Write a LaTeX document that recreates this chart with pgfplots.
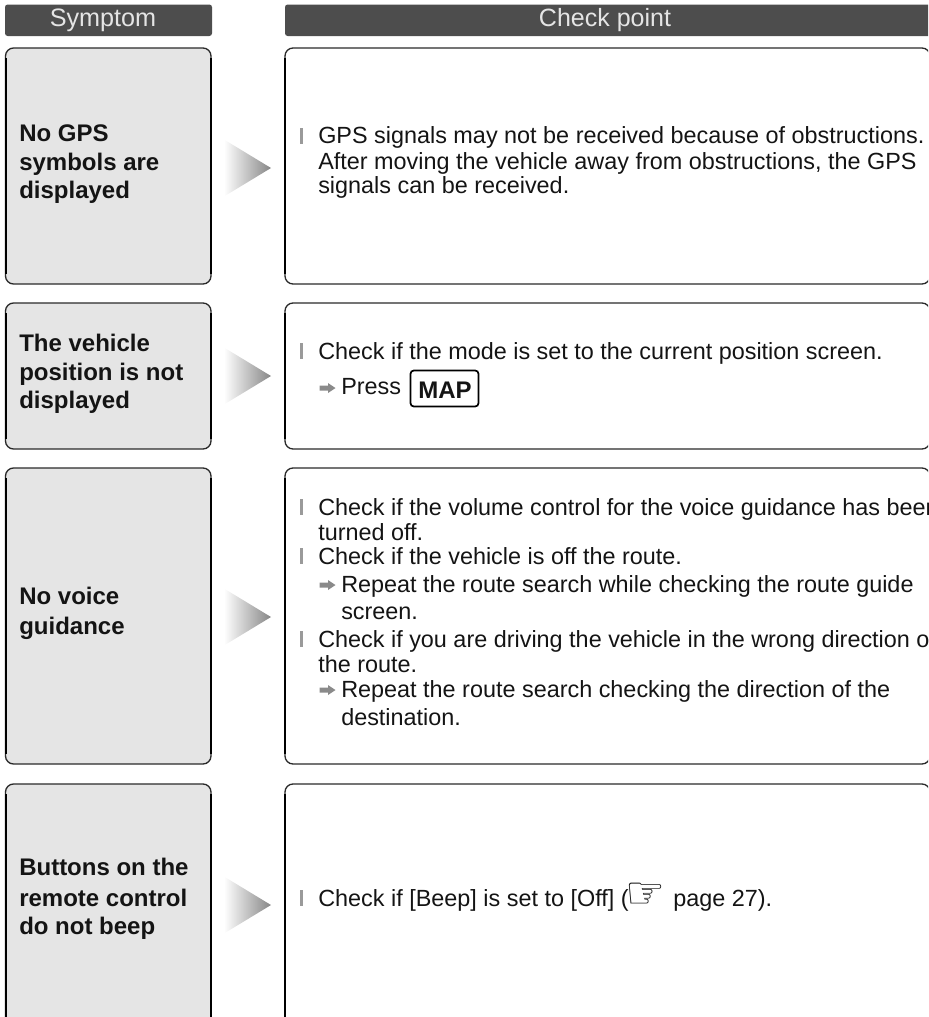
\documentclass[border=0pt]{standalone}
\usepackage{pgfplots}
\pgfplotsset{compat=1.18}
\usepackage{fontspec}
\setmainfont{Liberation Sans}
\newfontfamily\dejavu{DejaVu Sans}
\definecolor{hdr}{HTML}{4D4D4D}
\definecolor{pale}{HTML}{E5E5E5}
\definecolor{edge}{HTML}{2A2A2A}
\definecolor{txt}{HTML}{141414}
\definecolor{bull}{HTML}{9A9A9A}
\definecolor{arr}{HTML}{8A8A8A}
\newcommand{\T}[3]{\node[anchor=base west,inner sep=0pt,text=txt,font=\fontsize{17.55pt}{22pt}\selectfont] at (#1,#2) {#3};}
\newcommand{\B}[3]{\node[anchor=base west,inner sep=0pt,text=txt,font=\fontsize{18pt}{22pt}\selectfont\bfseries] at (#1,#2) {#3};}
\newcommand{\Bul}[1]{\fill[bull] (300,#1-16) rectangle (302.6,#1);}
\newcommand{\Arr}[1]{\fill[arr] (319.5,#1-2.5) -- (328,#1-2.5) -- (328,#1-5) -- (335.5,#1) -- (328,#1+5) -- (328,#1+2.5) -- (319.5,#1+2.5) -- cycle;}
\newcommand{\Row}[3]{%
  \path[fill=pale,rounded corners=6pt] (5.5,#1) rectangle (211,#2);
  \draw[edge,line width=1pt,rounded corners=6pt] (5.5,#1) rectangle (211,#2);
  \draw[black,line width=1.5pt] (5.5,#1+10) -- (5.5,#2-10);
  \draw[black,line width=1.5pt] (211,#1+10) -- (211,#2-10);
  \draw[edge,line width=1pt,rounded corners=6pt] (285,#1) rectangle (930,#2);
  \draw[black,line width=1.5pt] (285,#1+10) -- (285,#2-10);
  \shade[left color=white,right color=gray!95] (224,#3-28.5) -- (271,#3) -- (224,#3+28.5) -- cycle;
}
\begin{document}
\begin{tikzpicture}
\begin{axis}[
  scale only axis,width=696pt,height=762.75pt,
  xmin=0,xmax=928,ymin=0,ymax=1017,y dir=reverse,
  hide axis,clip=true]
\addplot[draw=none] coordinates {(0,0)(928,1017)};
% headers
\fill[hdr,rounded corners=2pt] (5,4.5) rectangle (212,36);
\fill[hdr,rounded corners=2pt] (285,4.5) rectangle (932,36);
\node[anchor=base,inner sep=0pt,text=pale,font=\fontsize{18.9pt}{22pt}\selectfont] at (103,26.5) {Symptom};
\node[anchor=base,inner sep=0pt,text=pale,font=\fontsize{18.75pt}{22pt}\selectfont] at (605,26.5) {Check point};
% boxes
\Row{48}{284}{168}
\Row{303}{449}{376}
\Row{468}{764}{617}
\Row{784}{1035}{905}
% left labels
\B{19}{141}{No GPS}
\B{19}{170}{symbols are}
\B{19}{198}{displayed}
\B{19}{351}{The vehicle}
\B{19}{380}{position is not}
\B{19}{408}{displayed}
\B{19}{604}{No voice}
\B{19}{634}{guidance}
\B{19}{875}{Buttons on the}
\B{19}{906}{remote control}
\B{19}{934}{do not beep}
% box 1
\Bul{144}
\T{318}{143.5}{GPS signals may not be received because of obstructions.}
\T{318}{169.5}{After moving the vehicle away from obstructions, the GPS}
\T{318}{193.5}{signals can be received.}
% box 2
\Bul{359}
\T{318}{359}{Check if the mode is set to the current position screen.}
\Arr{388}
\T{341}{394}{Press}
\draw[black,line width=1.3pt,rounded corners=2.5pt] (410.5,370.5) rectangle (478.5,406.5);
\B{418}{398}{MAP}
% box 3
\Bul{515}
\T{318}{515}{Check if the volume control for the voice guidance has been}
\T{318}{540}{turned off.}
\Bul{564}
\T{318}{564}{Check if the vehicle is off the route.}
\Arr{585}
\T{341}{592}{Repeat the route search while checking the route guide}
\T{341}{619}{screen.}
\Bul{647}
\T{318}{647}{Check if you are driving the vehicle in the wrong direction on}
\T{318}{672}{the route.}
\Arr{690}
\T{341}{697}{Repeat the route search checking the direction of the}
\T{341}{725}{destination.}
% box 4
\Bul{906}
\T{318}{906}{Check if [Beep] is set to [Off] (}
\node[anchor=base west,inner sep=0pt,text=txt,font=\dejavu] at (625,908) {\resizebox{30pt}{!}{☞}};
\T{673}{906}{page 27).}
\end{axis}
\pgfresetboundingbox
\useasboundingbox (0,0) rectangle (696pt,762.75pt);
\end{tikzpicture}
\end{document}
